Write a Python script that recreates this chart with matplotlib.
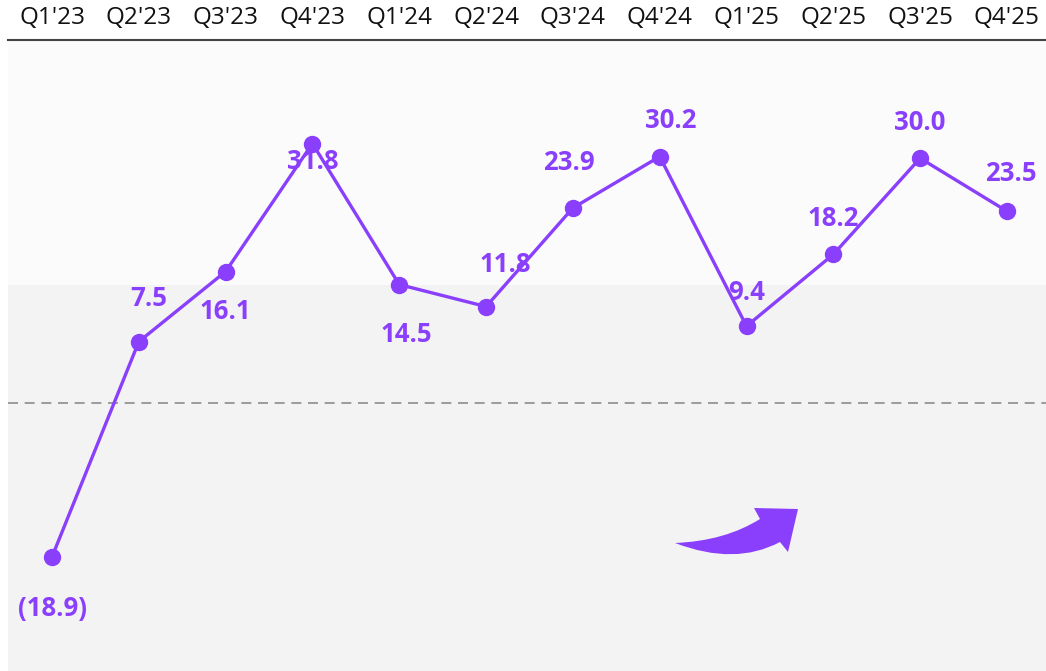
import matplotlib
matplotlib.use('Agg')
import matplotlib.pyplot as plt
from matplotlib.path import Path
from matplotlib.patches import PathPatch, Rectangle
import numpy as np

quarters = ["Q1'23", "Q2'23", "Q3'23", "Q4'23", "Q1'24", "Q2'24",
            "Q3'24", "Q4'24", "Q1'25", "Q2'25", "Q3'25", "Q4'25"]
values = [-18.9, 7.5, 16.1, 31.8, 14.5, 11.8, 23.9, 30.2, 9.4, 18.2, 30.0, 23.5]
labels = ['(18.9)', '7.5', '16.1', '31.8', '14.5', '11.8',
          '23.9', '30.2', '9.4', '18.2', '30.0', '23.5']

# label offsets in points (dx, dy)
offsets = [(0, -37), (7, 31), (0, -29), (0, -13), (5, -36), (14, 30),
           (-3, 33), (8, 26), (0, 24), (0, 26), (0, 26), (3, 27)]

purple = '#8a3ffc'

plt.rcParams['font.family'] = ['Open Sans', 'DejaVu Sans']

fig = plt.figure(figsize=(10.46, 6.71), dpi=100)
fig.patch.set_facecolor('white')
ax = fig.add_axes([8 / 1046, 0, 1038 / 1046, 631 / 671])
ax.set_facecolor('#fbfbfb')

x = np.arange(len(quarters))
ax.set_xlim(-0.507, 11.45)
ax.set_ylim(-32.9, 44.5)

# lower grey panel
ax.add_patch(Rectangle((0, 0), 1, 0.612, transform=ax.transAxes,
                       facecolor='#f3f3f3', edgecolor='none', zorder=0))

ax.axhline(0, color='#8c8c8c', lw=1.2, ls=(0, (6, 4)), zorder=1)

ax.plot(x, values, color=purple, lw=2.4, marker='o', ms=11.5, zorder=3)

for xi, v, lab, (dx, dy) in zip(x, values, labels, offsets):
    ax.annotate(lab, (xi, v), xytext=(dx, dy), textcoords='offset points',
                ha='center', va='center', color=purple, fontsize=18.5,
                fontweight='bold', zorder=4)

ax.xaxis.tick_top()
ax.set_xticks(x)
ax.set_xticklabels(quarters, fontsize=17.5, color='#111111')
ax.tick_params(axis='x', length=0, pad=7)
ax.set_yticks([])
for s in ['left', 'right', 'bottom']:
    ax.spines[s].set_visible(False)
ax.spines['top'].set_color('#444444')
ax.spines['top'].set_linewidth(1.5)

# curved arrow decoration (pixel coords, y down)
W, H = 1046, 671
pts = [(675, 543), (725, 541), (760, 519), (754, 508), (798, 509),
       (788, 552), (780, 542), (735, 566), (675, 543), (675, 543)]
codes = [Path.MOVETO, Path.CURVE3, Path.CURVE3, Path.LINETO, Path.LINETO,
         Path.LINETO, Path.LINETO, Path.CURVE3, Path.CURVE3, Path.CLOSEPOLY]
verts = [(px / W, 1 - py / H) for px, py in pts]
fig.patches.append(PathPatch(Path(verts, codes), transform=fig.transFigure,
                             facecolor=purple, edgecolor='none', zorder=5))

fig.savefig('out.png', dpi=100, facecolor=fig.get_facecolor())
